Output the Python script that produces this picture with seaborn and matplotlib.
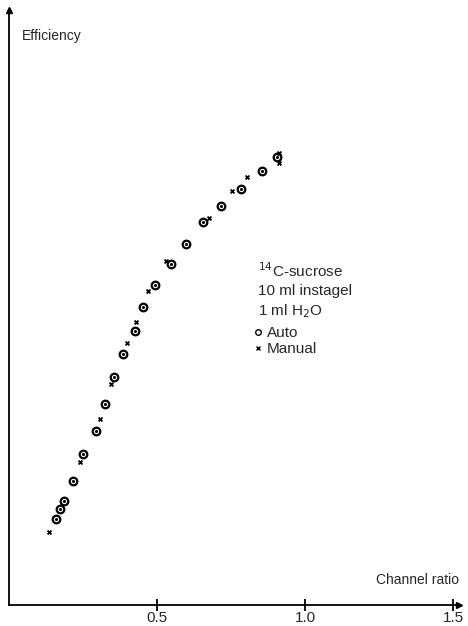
import numpy as np
import pandas as pd
import matplotlib
matplotlib.use("Agg")
import matplotlib.pyplot as plt
from matplotlib.lines import Line2D
import seaborn as sns

# ---- data ----
auto_ratio = [0.158, 0.172, 0.187, 0.215, 0.251, 0.293, 0.325, 0.356, 0.386, 0.426,
              0.454, 0.494, 0.546, 0.598, 0.654, 0.715, 0.783, 0.854, 0.904]
auto_eff = [14.5, 16.1, 17.4, 20.8, 25.4, 29.3, 33.8, 38.3, 42.2, 46.1,
            50.1, 53.7, 57.3, 60.7, 64.4, 67.0, 70.0, 72.9, 75.3]
manual_ratio = [0.136, 0.240, 0.307, 0.345, 0.400, 0.429, 0.469, 0.529, 0.677,
                0.753, 0.803, 0.913, 0.913]
manual_eff = [12.3, 24.0, 31.2, 37.1, 44.1, 47.6, 52.8, 57.8, 65.1,
              69.6, 72.0, 75.9, 74.3]
x_ticks = [0.5, 1.0, 1.5]
x_tick_labels = ["0.5", "1.0", "1.5"]

sns.set_style("white")
plt.rcParams['font.family'] = ['Liberation Sans', 'DejaVu Sans']

W, H = 468, 626
fig = plt.figure(figsize=(W / 100, H / 100), dpi=100)
ax = fig.add_axes([9 / W, (H - 605) / H, 450 / W, 595 / H])
ax.set_xlim(0, 1.52)
ax.set_ylim(0, 100)

auto_df = pd.DataFrame({"ratio": auto_ratio, "eff": auto_eff})
man_df = pd.DataFrame({"ratio": manual_ratio, "eff": manual_eff})

sns.scatterplot(data=auto_df, x="ratio", y="eff", ax=ax, marker="o", s=30,
                facecolor="white", edgecolor="black", linewidth=1.6, zorder=3)
sns.scatterplot(data=auto_df, x="ratio", y="eff", ax=ax, marker="o", s=5,
                color="black", linewidth=0, zorder=4)
sns.scatterplot(data=man_df, x="ratio", y="eff", ax=ax, marker="x", s=8,
                color="black", linewidth=1.3, zorder=3)

for s in ["top", "right"]:
    ax.spines[s].set_visible(False)
for s in ["left", "bottom"]:
    ax.spines[s].set_color("black")
    ax.spines[s].set_linewidth(1.3)

ax.set_xticks(x_ticks)
ax.set_xticklabels(x_tick_labels, fontsize=11)
ax.tick_params(axis="x", bottom=True, direction="inout", length=8, width=1.3,
               color="black", pad=0.5)
ax.set_yticks([])
ax.set_xlabel("")
ax.set_ylabel("")

# axis arrowheads
ax.plot(1, 0, marker=">", markersize=5, color="black", transform=ax.transAxes, clip_on=False)
ax.plot(0, 1, marker="^", markersize=5, color="black", transform=ax.transAxes, clip_on=False)

ax.text(22 / W - 9 / W, 1 - 26 / 595, "Efficiency", transform=ax.transAxes,
        fontsize=10, ha="left", va="center")
ax.text(1.0, (605 - 580) / 595, "Channel ratio", transform=ax.transAxes,
        fontsize=10, ha="right", va="center")

tx = (258 - 9) / 450
ax.text(tx, (605 - 271) / 595, r"$^{14}$C-sucrose", transform=ax.transAxes, fontsize=11, va="center")
ax.text(tx, (605 - 291) / 595, "10 ml instagel", transform=ax.transAxes, fontsize=11, va="center")
ax.text(tx, (605 - 311) / 595, r"1 ml H$_2$O", transform=ax.transAxes, fontsize=11, va="center")

handles = [Line2D([], [], marker="o", linestyle="", markersize=4, markerfacecolor="white",
                  markeredgecolor="black", markeredgewidth=1.0, label="Auto"),
           Line2D([], [], marker="x", linestyle="", markersize=2.5, color="black",
                  markeredgewidth=1.0, label="Manual")]
ax.legend(handles=handles, loc="upper left", bbox_to_anchor=((253 - 9) / 450, (605 - 326) / 595),
          frameon=False, fontsize=11, handlelength=0.6, handletextpad=0.3,
          labelspacing=0.15, borderpad=0, borderaxespad=0)

fig.savefig("out.png", dpi=100)
